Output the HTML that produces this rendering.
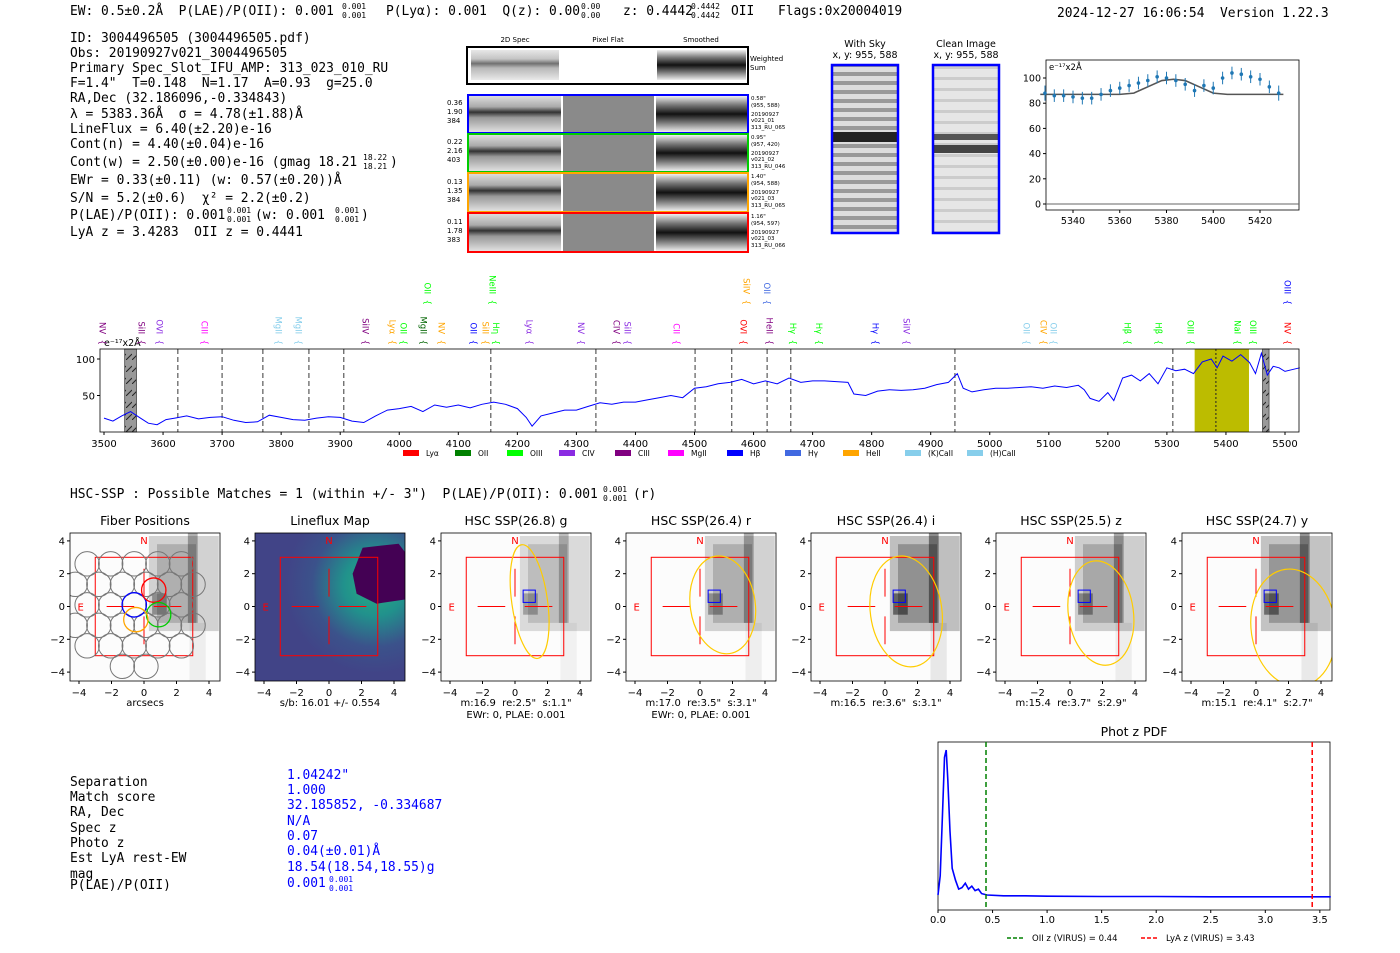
<!DOCTYPE html>
<html><head><meta charset="utf-8"><style>
body{margin:0;background:#fff;}
svg{display:block;}
.m{font-family:"DejaVu Sans Mono","Liberation Mono",monospace;font-size:12.9px;fill:#000;white-space:pre;}
.s{font-family:"DejaVu Sans","Liberation Sans",sans-serif;fill:#000;}
text{white-space:pre;}
</style></head><body>
<svg id="fig" width="1400" height="953" viewBox="0 0 1400 953" xmlns="http://www.w3.org/2000/svg" xml:space="preserve">
<defs>
<linearGradient id="spec2d" x1="0" y1="0" x2="0" y2="1">
<stop offset="0" stop-color="#ddd"/><stop offset="0.3" stop-color="#aaa"/><stop offset="0.45" stop-color="#333"/><stop offset="0.6" stop-color="#999"/><stop offset="0.8" stop-color="#bbb"/><stop offset="1" stop-color="#e0e0e0"/></linearGradient>
<linearGradient id="smooth" x1="0" y1="0" x2="0" y2="1">
<stop offset="0" stop-color="#f0f0f0"/><stop offset="0.25" stop-color="#777"/><stop offset="0.5" stop-color="#111"/><stop offset="0.7" stop-color="#666"/><stop offset="1" stop-color="#eee"/></linearGradient>
<pattern id="sky" width="8" height="9" patternUnits="userSpaceOnUse"><rect width="8" height="9" fill="#ddd"/><rect y="0" width="8" height="4" fill="#999"/></pattern>
<pattern id="clean" width="8" height="11" patternUnits="userSpaceOnUse"><rect width="8" height="11" fill="#e6e6e6"/><rect y="0" width="8" height="3" fill="#ccc"/></pattern>
<pattern id="hatch" width="6" height="12" patternUnits="userSpaceOnUse"><rect width="6" height="12" fill="#999"/><line x1="0" y1="12" x2="6" y2="6" stroke="#222" stroke-width="1"/></pattern>
<radialGradient id="glow" cx="0.8" cy="0.35" r="0.6"><stop offset="0" stop-color="#2ab07f"/><stop offset="0.35" stop-color="#21918c"/><stop offset="0.7" stop-color="#3b528b"/><stop offset="1" stop-color="#414487"/></radialGradient>
</defs>

<g>
<text class="m" x="70" y="15">EW: 0.5±0.2Å  P(LAE)/P(OII): 0.001</text>
<text class="m" x="342" y="9" style="font-size:8px">0.001</text><text class="m" x="342" y="18" style="font-size:8px">0.001</text>
<text class="m" x="386" y="15">P(Lyα): 0.001  Q(z): 0.00</text>
<text class="m" x="581" y="9" style="font-size:8px">0.00</text><text class="m" x="581" y="18" style="font-size:8px">0.00</text>
<text class="m" x="623" y="15">z: 0.4442</text>
<text class="m" x="691" y="9" style="font-size:8px">0.4442</text><text class="m" x="691" y="18" style="font-size:8px">0.4442</text>
<text class="m" x="731" y="15">OII</text>
<text class="m" x="778" y="15">Flags:0x20004019</text>
<text class="m" x="1057" y="17">2024-12-27 16:06:54  Version 1.22.3</text>
</g>
<g>
<text class="m" x="70" y="42">ID: 3004496505 (3004496505.pdf)</text>
<text class="m" x="70" y="57">Obs: 20190927v021_3004496505</text>
<text class="m" x="70" y="72">Primary Spec_Slot_IFU_AMP: 313_023_010_RU</text>
<text class="m" x="70" y="87">F=1.4"  T=0.148  N=1.17  A=0.93  g=25.0</text>
<text class="m" x="70" y="102">RA,Dec (32.186096,-0.334843)</text>
<text class="m" x="70" y="118">λ = 5383.36Å  σ = 4.78(±1.88)Å</text>
<text class="m" x="70" y="133">LineFlux = 6.40(±2.20)e-16</text>
<text class="m" x="70" y="148">Cont(n) = 4.40(±0.04)e-16</text>
<text class="m" x="70" y="166">Cont(w) = 2.50(±0.00)e-16 (gmag 18.21</text>
<text class="m" x="363" y="160" style="font-size:8px">18.22</text><text class="m" x="363" y="169" style="font-size:8px">18.21</text><text class="m" x="390" y="166">)</text>
<text class="m" x="70" y="184">EWr = 0.33(±0.11) (w: 0.57(±0.20))Å</text>
<text class="m" x="70" y="202">S/N = 5.2(±0.6)  χ² = 2.2(±0.2)</text>
<text class="m" x="70" y="219">P(LAE)/P(OII): 0.001</text>
<text class="m" x="227" y="213" style="font-size:8px">0.001</text><text class="m" x="227" y="222" style="font-size:8px">0.001</text>
<text class="m" x="255" y="219">(w: 0.001</text>
<text class="m" x="335" y="213" style="font-size:8px">0.001</text><text class="m" x="335" y="222" style="font-size:8px">0.001</text><text class="m" x="361" y="219">)</text>
<text class="m" x="70" y="236">LyA z = 3.4283  OII z = 0.4441</text>
</g>

<g class="s" style="font-size:7px">
<text x="515" y="42" text-anchor="middle">2D Spec</text><text x="608" y="42" text-anchor="middle">Pixel Flat</text><text x="701" y="42" text-anchor="middle">Smoothed</text>
<rect x="467" y="47" width="281" height="37" fill="#fff" stroke="#000" stroke-width="2"/>
<rect x="471" y="50" width="88" height="30" fill="url(#spec2d)" opacity="0.7"/>
<rect x="657" y="50" width="89" height="30" fill="url(#smooth)"/>
<text x="750" y="61">Weighted</text><text x="750" y="70">Sum</text>
<g><rect x="469" y="96" width="92" height="36" fill="url(#spec2d)"/><rect x="563" y="96" width="91" height="36" fill="#8a8a8a"/><rect x="656" y="96" width="91" height="36" fill="url(#smooth)"/><rect x="468" y="95" width="280" height="38" fill="none" stroke="#0000ff" stroke-width="2"/><text x="447" y="105">0.36</text><text x="447" y="114">1.90</text><text x="447" y="123">384</text><text x="751" y="100" style="font-size:5.5px">0.58"</text><text x="751" y="107" style="font-size:5.5px">(955, 588)</text><text x="751" y="116" style="font-size:5.5px">20190927</text><text x="751" y="122" style="font-size:5.5px">v021_01</text><text x="751" y="129" style="font-size:5.5px">313_RU_065</text></g>
<g><rect x="469" y="135" width="92" height="36" fill="url(#spec2d)"/><rect x="563" y="135" width="91" height="36" fill="#8a8a8a"/><rect x="656" y="135" width="91" height="36" fill="url(#smooth)"/><rect x="468" y="134" width="280" height="38" fill="none" stroke="#00cc00" stroke-width="2"/><text x="447" y="144">0.22</text><text x="447" y="153">2.16</text><text x="447" y="162">403</text><text x="751" y="139" style="font-size:5.5px">0.95"</text><text x="751" y="146" style="font-size:5.5px">(957, 420)</text><text x="751" y="155" style="font-size:5.5px">20190927</text><text x="751" y="161" style="font-size:5.5px">v021_02</text><text x="751" y="168" style="font-size:5.5px">313_RU_046</text></g>
<g><rect x="469" y="174" width="92" height="37" fill="url(#spec2d)"/><rect x="563" y="174" width="91" height="37" fill="#8a8a8a"/><rect x="656" y="174" width="91" height="37" fill="url(#smooth)"/><rect x="468" y="173" width="280" height="39" fill="none" stroke="#ffa500" stroke-width="2"/><text x="447" y="184">0.13</text><text x="447" y="193">1.35</text><text x="447" y="202">384</text><text x="751" y="178" style="font-size:5.5px">1.40"</text><text x="751" y="185" style="font-size:5.5px">(954, 588)</text><text x="751" y="194" style="font-size:5.5px">20190927</text><text x="751" y="200" style="font-size:5.5px">v021_03</text><text x="751" y="207" style="font-size:5.5px">313_RU_065</text></g>
<g><rect x="469" y="214" width="92" height="37" fill="url(#spec2d)"/><rect x="563" y="214" width="91" height="37" fill="#8a8a8a"/><rect x="656" y="214" width="91" height="37" fill="url(#smooth)"/><rect x="468" y="213" width="280" height="39" fill="none" stroke="#ff0000" stroke-width="2"/><text x="447" y="224">0.11</text><text x="447" y="233">1.78</text><text x="447" y="242">383</text><text x="751" y="218" style="font-size:5.5px">1.16"</text><text x="751" y="225" style="font-size:5.5px">(954, 597)</text><text x="751" y="234" style="font-size:5.5px">20190927</text><text x="751" y="240" style="font-size:5.5px">v021_03</text><text x="751" y="247" style="font-size:5.5px">313_RU_066</text></g>
</g>

<g class="s" style="font-size:9.5px">
<text x="865" y="47" text-anchor="middle">With Sky</text><text x="865" y="58" text-anchor="middle">x, y: 955, 588</text>
<rect x="832" y="65" width="66" height="168" fill="url(#sky)"/><rect x="832" y="132" width="66" height="10" fill="#222"/>
<rect x="832" y="65" width="66" height="168" fill="none" stroke="#0000ff" stroke-width="2.5"/>
</g>
<g class="s" style="font-size:9.5px">
<text x="966" y="47" text-anchor="middle">Clean Image</text><text x="966" y="58" text-anchor="middle">x, y: 955, 588</text>
<rect x="933" y="65" width="66" height="168" fill="url(#clean)"/><rect x="933" y="134" width="66" height="6" fill="#555"/><rect x="933" y="145" width="66" height="8" fill="#444"/>
<rect x="933" y="65" width="66" height="168" fill="none" stroke="#0000ff" stroke-width="2.5"/>
</g>

<g id="zoomplot"></g>
<g id="spectrum"></g>

<text class="m" x="70" y="498">HSC-SSP : Possible Matches = 1 (within +/- 3")  P(LAE)/P(OII): 0.001</text>
<text class="m" x="603" y="492" style="font-size:8px">0.001</text><text class="m" x="603" y="501" style="font-size:8px">0.001</text><text class="m" x="633" y="498">(r)</text>

<g id="panels"></g>

<g>
<text class="m" x="70" y="786">Separation</text><text class="m" x="70" y="801">Match score</text><text class="m" x="70" y="816">RA, Dec</text><text class="m" x="70" y="832">Spec z</text><text class="m" x="70" y="847">Photo z</text><text class="m" x="70" y="862">Est LyA rest-EW</text><text class="m" x="70" y="878">mag</text><text class="m" x="70" y="889">P(LAE)/P(OII)</text>
<text class="m" style="fill:#0000ff" x="287" y="779">1.04242"</text><text class="m" style="fill:#0000ff" x="287" y="794">1.000</text><text class="m" style="fill:#0000ff" x="287" y="809">32.185852, -0.334687</text><text class="m" style="fill:#0000ff" x="287" y="825">N/A</text><text class="m" style="fill:#0000ff" x="287" y="840">0.07</text><text class="m" style="fill:#0000ff" x="287" y="855">0.04(±0.01)Å</text><text class="m" style="fill:#0000ff" x="287" y="871">18.54(18.54,18.55)g</text><text class="m" style="fill:#0000ff" x="287" y="887">0.001</text><text class="m" style="fill:#0000ff;font-size:8px" x="329" y="882">0.001</text><text class="m" style="fill:#0000ff;font-size:8px" x="329" y="891">0.001</text>
</g>

<g id="pdf"></g>
</svg>

<script>
const specWave = [3500,3515,3530,3545,3560,3575,3590,3605,3620,3640,3660,3680,3700,3720,3740,3760,3780,3800,3820,3840,3860,3880,3900,3920,3940,3960,3980,4000,4020,4040,4060,4080,4100,4120,4140,4160,4180,4200,4215,4225,4240,4260,4280,4300,4320,4340,4360,4380,4400,4420,4440,4460,4480,4500,4520,4540,4560,4580,4600,4620,4640,4660,4680,4700,4720,4740,4760,4770,4790,4810,4830,4850,4870,4890,4910,4930,4945,4955,4970,4990,5010,5030,5050,5070,5090,5110,5130,5150,5160,5170,5185,5200,5210,5225,5240,5255,5270,5285,5300,5315,5330,5345,5360,5375,5385,5395,5410,5425,5440,5450,5460,5470,5480,5490,5500,5515,5525];
const specFlux = [19,15,22,28,20,12,10,17,19,22,18,20,21,16,13,14,23,20,17,16,19,21,20,15,13,22,30,32,35,28,37,34,37,33,38,41,38,32,20,8,22,26,30,30,35,40,38,41,41,44,47,50,47,60,62,66,68,72,66,70,66,74,68,70,70,69,68,52,50,56,58,57,58,60,65,68,80,60,55,58,60,60,61,62,60,63,61,64,58,46,42,54,43,74,78,70,80,66,88,84,86,80,96,100,88,104,97,106,95,80,108,78,90,88,83,86,88];
const specTicks = [3500,3600,3700,3800,3900,4000,4100,4200,4300,4400,4500,4600,4700,4800,4900,5000,5100,5200,5300,5400,5500];
const specYTicks = [50,100];
const dashedWaves = [3625,3700,3769,3847,3906,4155,4333,4501,4563,4623,4663,4941,5310];
const lineWaves = [3498,3564,3595,3671,3796,3830,3944,3989,4008,4042,4072,4127,4147,4165,4221,4309,4369,4387,4470,4584,4628,4668,4712,4807,4860,5063,5092,5109,5234,5287,5341,5420,5447,5505,4049,4159,4589,4624,5505];
const lineNames = ["NV","SiII","OVI","CIII","MgII","MgII","SiIV","Lyα","OII","MgII","NV","OII","SiII","Hη","Lyα","NV","CIV","SiII","CII","OVI","HeII","Hγ","Hγ","Hγ","SiIV","OII","CIV","OII","Hβ","Hβ","OIII","NaI","OIII","NV","OII","NeIII","SiIV","OII","OIII"];
const lineColors = ["#800080","#800080","#8a2be2","#ff00ff","#87ceeb","#87ceeb","#800080","#ffa500","#00ff00","#006400","#ffa500","#0000ff","#ffa500","#00ff00","#8a2be2","#8a2be2","#800080","#8a2be2","#ff00ff","#ff0000","#800080","#00ff00","#00ff00","#0000ff","#8a2be2","#87ceeb","#ffa500","#87ceeb","#00ff00","#00ff00","#00ff00","#00ff00","#00ff00","#ff0000","#00ff00","#00ff00","#ffa500","#4169e1","#0000ff"];
const lineRows = [0,0,0,0,0,0,0,0,0,0,0,0,0,0,0,0,0,0,0,0,0,0,0,0,0,0,0,0,0,0,0,0,0,0,1,1,1,1,1];
const legendNames = ["Lyα","OII","OIII","CIV","CIII","MgII","Hβ","Hγ","HeII","(K)CaII","(H)CaII"];
const legendColors = ["#ff0000","#008000","#00ff00","#8a2be2","#800080","#ff00ff","#0000ff","#4169e1","#ffa500","#87ceeb","#87ceeb"];

const zoomWave = [5328,5332,5336,5340,5344,5348,5352,5356,5360,5364,5368,5372,5376,5380,5384,5388,5392,5396,5400,5404,5408,5412,5416,5420,5424,5428];
const zoomFlux = [88,86,86,85,84,84,87,90,92,94,96,98,101,100,98,95,90,94,92,100,104,103,101,99,93,88];
const zoomErr = [6,5,5,5,5,5,5,5,5,5,5,5,5,5,5,5,5,5,5,5,5,5,5,5,5,6];
const modelWave = [5326,5350,5360,5366,5372,5378,5383,5388,5394,5400,5406,5430];
const modelFlux = [87,87,87,88,93,98,99,98,93,88,87,87];
const zoomXTicks = [5340,5360,5380,5400,5420];
const zoomYTicks = [0,20,40,60,80,100];

const pdfZ = [0,0.02,0.04,0.06,0.075,0.09,0.11,0.13,0.16,0.19,0.22,0.25,0.28,0.31,0.34,0.37,0.4,0.45,0.6,0.8,1.0,1.5,2.0,2.5,3.0,3.5,3.6];
const pdfP = [0.02,0.15,0.55,0.95,1.0,0.8,0.45,0.2,0.12,0.06,0.07,0.1,0.06,0.08,0.05,0.06,0.03,0.02,0.015,0.015,0.012,0.01,0.01,0.008,0.008,0.008,0.008];
const pdfXTicks = [0.0,0.5,1.0,1.5,2.0,2.5,3.0,3.5];
const oiiZ = 0.44, lyaZ = 3.43;

const panelTitles = ["Fiber Positions","Lineflux Map","HSC SSP(26.8) g","HSC SSP(26.4) r","HSC SSP(26.4) i","HSC SSP(25.5) z","HSC SSP(24.7) y"];
const panelCaptions = [["arcsecs"],["s/b: 16.01 +/- 0.554"],['m:16.9  re:2.5"  s:1.1"',"EWr: 0, PLAE: 0.001"],['m:17.0  re:3.5"  s:3.1"',"EWr: 0, PLAE: 0.001"],['m:16.5  re:3.6"  s:3.1"'],['m:15.4  re:3.7"  s:2.9"'],['m:15.1  re:4.1"  s:2.7"']];
const ellipseRx = [0,0,1.1,2.0,2.2,2.0,2.6];
const ellipseRy = [0,0,3.5,3.0,3.4,3.2,3.6];
const ellipseCx = [0,0,0.9,1.4,1.3,1.9,2.3];
const ellipseCy = [0,0,0.3,0.1,-0.3,-0.4,-1.3];
const imgDark = [0.55,0,0.45,0.55,0.8,0.6,0.75];

const NS = "http://www.w3.org/2000/svg";
function mk(parent, tag, attrs, txt){const e=document.createElementNS(NS,tag);for(const k in attrs)e.setAttribute(k,attrs[k]);if(txt!==undefined)e.textContent=txt;parent.appendChild(e);return e;}
const F = 'font-family:"DejaVu Sans","Liberation Sans",sans-serif;';

(function(){
  const g=document.getElementById('spectrum');
  const L=100,R=1299,T=349,B=432;
  const sx=w=>104+(w-3500)*0.5905, sy=v=>B-v*0.73;
  let el=mk(g,'rect',{x:L,y:T,width:R-L,height:B-T,fill:'#fff'});
  
  el=mk(g,'rect',{x:sx(3535),y:T,width:sx(3555)-sx(3535),height:B-T,fill:'url(#hatch)',stroke:'#444','stroke-width':0.8});
  
  el=mk(g,'rect',{x:sx(5462),y:T,width:sx(5473)-sx(5462),height:B-T,fill:'url(#hatch)',stroke:'#444','stroke-width':0.8});
  
  el=mk(g,'rect',{x:sx(5347),y:T,width:sx(5439)-sx(5347),height:B-T,fill:'#bcbc00'});
  
  el=mk(g,'line',{x1:sx(5383),x2:sx(5383),y1:T,y2:B,stroke:'#222','stroke-dasharray':'2,2','stroke-width':1});
  
  dashedWaves.forEach(w=>{const d=mk(g,'line',{x1:sx(w),x2:sx(w),y1:T,y2:B,stroke:'#666','stroke-dasharray':'5,3','stroke-width':1.3});
    });
  const pts=specWave.map((w,i)=>sx(w).toFixed(1)+','+sy(specFlux[i]).toFixed(1)).join(' ');
  el=mk(g,'polyline',{points:pts,fill:'none',stroke:'#0000ff','stroke-width':1});
  
  el=mk(g,'rect',{x:L,y:T,width:R-L,height:B-T,fill:'none',stroke:'#000','stroke-width':0.8});
  
  specTicks.forEach(t=>{mk(g,'line',{x1:sx(t),x2:sx(t),y1:B,y2:B+3,stroke:'#000'});
    const tx=mk(g,'text',{x:sx(t),y:B+15,'text-anchor':'middle',style:F+'font-size:10px'},String(t));
    });
  specYTicks.forEach(t=>{mk(g,'line',{x1:L-3,x2:L,y1:sy(t),y2:sy(t),stroke:'#000'});
    const tx=mk(g,'text',{x:L-5,y:sy(t)+4,'text-anchor':'end',style:F+'font-size:10px'},String(t));
    });
  el=mk(g,'text',{x:104,y:346,style:F+'font-size:9.5px'},'e⁻¹⁷x2Å');
  
  lineWaves.forEach((w,i)=>{
    const x=sx(w), yb=lineRows[i]?305:345;
    const t=mk(g,'text',{x:0,y:0,transform:`translate(${x-3.5},${yb}) rotate(90)`,'text-anchor':'end',style:F+'font-size:8.5px;fill:'+lineColors[i]},lineNames[i]+'  {');
    
  });
  let lx=403;
  legendNames.forEach((n,i)=>{
    const r=mk(g,'rect',{x:lx,y:450,width:16,height:6,fill:legendColors[i]});
    
    const t=mk(g,'text',{x:lx+23,y:456,style:F+'font-size:7.5px'},n);
    
    lx+= [52,52,52,56,53,59,58,58,62,62,60][i];
  });
})();

(function(){
  const g=document.getElementById('zoomplot');
  const L=1046,R=1299,T=60,B=210;
  const sx=w=>1073+(w-5340)*2.3375, sy=v=>204-v*1.26;
  let el=mk(g,'rect',{x:L,y:T,width:R-L,height:B-T,fill:'#fff',stroke:'#000','stroke-width':0.8});
  
  el=mk(g,'line',{x1:L,x2:R,y1:sy(0),y2:sy(0),stroke:'#666','stroke-width':1});
  
  el=mk(g,'polyline',{points:modelWave.map((w,i)=>sx(w)+','+sy(modelFlux[i])).join(' '),fill:'none',stroke:'#555','stroke-width':1.6});
  
  zoomWave.forEach((w,i)=>{
    const x=sx(w);
    const e=mk(g,'line',{x1:x,x2:x,y1:sy(zoomFlux[i]-zoomErr[i]),y2:sy(zoomFlux[i]+zoomErr[i]),stroke:'#1f77b4','stroke-width':1});
    
    const c=mk(g,'circle',{cx:x,cy:sy(zoomFlux[i]),r:1.8,fill:'#1f77b4'});
    
  });
  zoomXTicks.forEach(t=>{mk(g,'line',{x1:sx(t),x2:sx(t),y1:B,y2:B+3,stroke:'#000'});
    const tx=mk(g,'text',{x:sx(t),y:B+14,'text-anchor':'middle',style:F+'font-size:9.5px'},String(t));
    });
  zoomYTicks.forEach(t=>{mk(g,'line',{x1:L-3,x2:L,y1:sy(t),y2:sy(t),stroke:'#000'});
    const tx=mk(g,'text',{x:L-5,y:sy(t)+3.5,'text-anchor':'end',style:F+'font-size:9.5px'},String(t));
    });
  el=mk(g,'text',{x:L+3,y:T+10,style:F+'font-size:8.5px'},'e⁻¹⁷x2Å');
  
})();

(function(){
  const g=document.getElementById('panels');
  const lefts=[70,255,441,626,811,996,1182];
  const T=533,W=150,H=148;
  panelTitles.forEach((title,p)=>{
    const x0=lefts[p];
    const cx=x0+74, cy=606.5, sxu=16.25, syu=16.4;
    const X=v=>cx+v*sxu, Y=v=>cy-v*syu;
    const pg=mk(g,'g',{});
    
    const cp=mk(pg,'clipPath',{id:'cp'+p});mk(cp,'rect',{x:x0,y:T,width:W,height:H});
    const ig=mk(pg,'g',{'clip-path':`url(#cp${p})`});
    if(p===1){
      mk(ig,'rect',{x:x0,y:T,width:W,height:H,fill:'url(#glow)'});
      const hx=X(3.3),hy=Y(2.0);
      const hex=mk(ig,'polygon',{points:[[hx-30,hy],[hx-20,hy-26],[hx+16,hy-30],[hx+35,hy-5],[hx+28,hy+25],[hx-6,hy+30],[hx-26,hy+20]].map(a=>a.join(',')).join(' '),fill:'#440154'});
      
    } else {
      mk(ig,'rect',{x:x0,y:T,width:W,height:H,fill:'#fcfcfc'});
      const d=imgDark[p];
      mk(ig,'rect',{x:X(0.3),y:Y(4.3),width:X(4.6)-X(0.3),height:Y(-1.5)-Y(4.3),fill:'#000',opacity:d*0.3});
      mk(ig,'rect',{x:X(0.8),y:Y(3.8),width:X(3.2)-X(0.8),height:Y(-1.0)-Y(3.8),fill:'#000',opacity:d*0.3});
      mk(ig,'rect',{x:X(2.7),y:Y(4.5),width:X(3.3)-X(2.7),height:Y(-1.0)-Y(4.5),fill:'#000',opacity:d*0.55});
      mk(ig,'rect',{x:X(0.5),y:Y(0.8),width:X(1.4)-X(0.5),height:Y(-0.5)-Y(0.8),fill:'#000',opacity:d*0.6});
      mk(ig,'rect',{x:X(2.8),y:Y(-1),width:X(3.8)-X(2.8),height:Y(-4.5)-Y(-1),fill:'#000',opacity:d*0.1});
    }
    mk(ig,'rect',{x:X(-3),y:Y(3),width:X(3)-X(-3),height:Y(-3)-Y(3),fill:'none',stroke:'#ff0000','stroke-width':1});
    [[-2.3,0,-0.6,0],[0.6,0,2.3,0],[0,2.3,0,0.6],[0,-0.6,0,-2.3]].forEach(s=>mk(ig,'line',{x1:X(s[0]),y1:Y(s[1]),x2:X(s[2]),y2:Y(s[3]),stroke:'#ff0000','stroke-width':1}));
    if(p===0){
      const fib=[];
      for(let r=-3;r<=3;r++)for(let c=-3;c<=3;c++){const fx=c*1.45+(r%2?0.72:0)-0.6, fy=r*1.25+0.1; if(Math.hypot(fx+0.6,fy)<3.9&&fx<3.2)fib.push([fx,fy]);}
      fib.forEach(f=>mk(ig,'circle',{cx:X(f[0]),cy:Y(f[1]),r:0.75*sxu,fill:'none',stroke:'#777','stroke-width':1}));
      [[-0.6,0.1,'#0000ff'],[0.6,1.0,'#ff0000'],[0.9,-0.5,'#00cc00'],[-0.5,-0.8,'#ffa500']].forEach(f=>{
        const c=mk(ig,'circle',{cx:X(f[0]),cy:Y(f[1]),r:0.75*sxu,fill:'none',stroke:f[2],'stroke-width':1.3});
        });
    }
    if(p>=2){
      const e=mk(ig,'ellipse',{cx:X(ellipseCx[p]),cy:Y(ellipseCy[p]),rx:ellipseRx[p]*sxu,ry:ellipseRy[p]*syu,fill:'none',stroke:'#ffcc00','stroke-width':1.2,transform:`rotate(-8 ${X(ellipseCx[p])} ${Y(ellipseCy[p])})`});
      
      const b=mk(ig,'rect',{x:X(0.5),y:Y(1.0),width:0.75*sxu,height:0.75*syu,fill:'none',stroke:'#0000ff','stroke-width':1});
      
    }
    mk(ig,'text',{x:X(0),y:Y(3.8),'text-anchor':'middle',style:F+'font-size:10px;fill:#ff0000'},'N');
    mk(ig,'text',{x:X(-3.9),y:Y(-0.25),'text-anchor':'middle',style:F+'font-size:10px;fill:#ff0000'},'E');
    mk(pg,'rect',{x:x0,y:T,width:W,height:H,fill:'none',stroke:'#000','stroke-width':0.8});
    const tt=mk(pg,'text',{x:x0+W/2,y:525,'text-anchor':'middle',style:F+'font-size:12.5px'},title);
    
    [-4,-2,0,2,4].forEach(v=>{
      mk(pg,'line',{x1:X(v),x2:X(v),y1:T+H,y2:T+H+3,stroke:'#000'});
      mk(pg,'text',{x:X(v),y:T+H+15,'text-anchor':'middle',style:F+'font-size:10px'},v<0?'−'+(-v):String(v));
      mk(pg,'line',{x1:x0-3,x2:x0,y1:Y(v),y2:Y(v),stroke:'#000'});
      mk(pg,'text',{x:x0-5,y:Y(v)+3.5,'text-anchor':'end',style:F+'font-size:10px'},v<0?'−'+(-v):String(v));
    });
    panelCaptions[p].forEach((c,k)=>{
      const ct=mk(pg,'text',{x:x0+W/2,y:706+k*12,'text-anchor':'middle',style:F+'font-size:10px'},c);
      
    });
  });
})();

(function(){
  const g=document.getElementById('pdf');
  const L=938,R=1330,T=742,B=910;
  const sx=z=>938+z*109.1, sy=p=>898-p*148;
  let el=mk(g,'rect',{x:L,y:T,width:R-L,height:B-T,fill:'#fff',stroke:'#000','stroke-width':0.8});
  
  el=mk(g,'polyline',{points:pdfZ.map((z,i)=>sx(z).toFixed(1)+','+sy(pdfP[i]).toFixed(1)).join(' '),fill:'none',stroke:'#0000ff','stroke-width':1.6});
  
  el=mk(g,'line',{x1:sx(oiiZ),x2:sx(oiiZ),y1:T,y2:B,stroke:'#008000','stroke-dasharray':'5,3','stroke-width':1.5});
  
  el=mk(g,'line',{x1:sx(lyaZ),x2:sx(lyaZ),y1:T,y2:B,stroke:'#ff0000','stroke-dasharray':'5,3','stroke-width':1.5});
  
  pdfXTicks.forEach(t=>{mk(g,'line',{x1:sx(t),x2:sx(t),y1:B,y2:B+3,stroke:'#000'});
    const tx=mk(g,'text',{x:sx(t),y:B+13,'text-anchor':'middle',style:F+'font-size:10px'},t.toFixed(1));
    });
  el=mk(g,'text',{x:1134,y:736,'text-anchor':'middle',style:F+'font-size:12.5px'},'Phot z PDF');
  
  mk(g,'line',{x1:1007,x2:1025,y1:938,y2:938,stroke:'#008000','stroke-dasharray':'4,2','stroke-width':1.5});
  el=mk(g,'text',{x:1032,y:941,style:F+'font-size:8.5px'},'OII z (VIRUS) = 0.44');
  
  mk(g,'line',{x1:1141,x2:1159,y1:938,y2:938,stroke:'#ff0000','stroke-dasharray':'4,2','stroke-width':1.5});
  el=mk(g,'text',{x:1166,y:941,style:F+'font-size:8.5px'},'LyA z (VIRUS) = 3.43');
  
})();
</script>
</body></html>
